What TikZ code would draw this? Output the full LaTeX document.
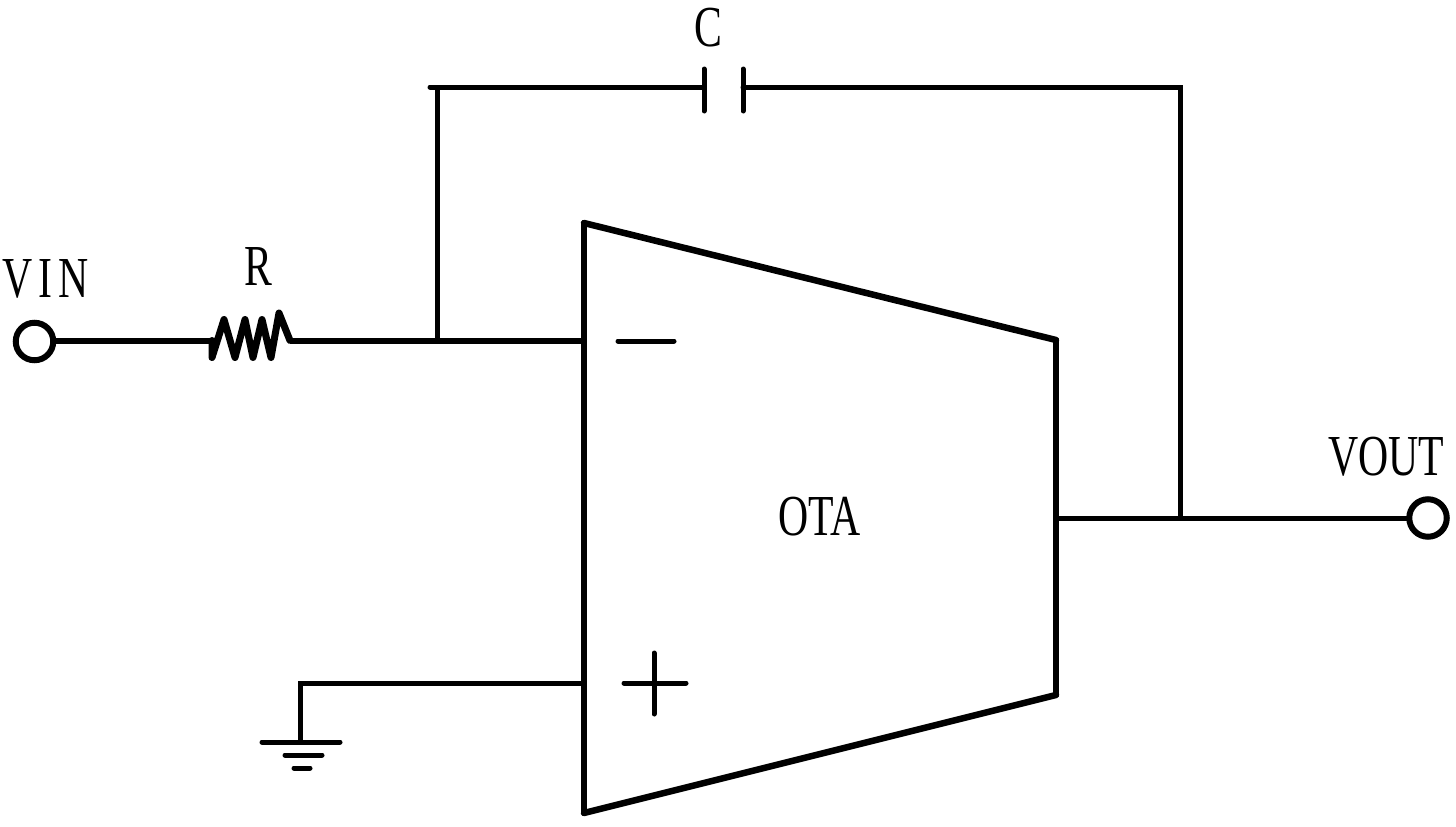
\documentclass[tikz,border=0pt]{standalone}
\usepackage{fontspec}
\setmainfont{Liberation Serif}
\usetikzlibrary{calc}
\tikzset{
  wire/.style={line width=5pt,line cap=round,line join=miter,black},
  pin/.style={circle,draw=black,line width=6pt,fill=white,minimum size=37.5pt,inner sep=0pt,outer sep=0pt},
  lbl/.style={inner sep=0pt,outer sep=0pt,anchor=center,xscale=0.72,font=\fontsize{58}{58}\selectfont},
}
\begin{document}
\begin{tikzpicture}[x=1pt,y=-1pt]
\useasboundingbox (0,0) rectangle (1456,827);
\fill[white] (0,0) rectangle (1456,827);
% named points
\node[pin] (vin) at (34.5,341.5) {};
\node[pin] (vout) at (1428,518) {};
\coordinate (rl) at (212,340.5);
\coordinate (rr) at (290,340.5);
\coordinate (j1) at (437,340.5);
\coordinate (inm) at (584,340.5);
\coordinate (inp) at (584,683);
\coordinate (outp) at (1056,518);
\coordinate (j2) at (1180,518);
\coordinate (tl) at (437,87);
\coordinate (tlstub) at (430,87);
\coordinate (tr) at (1180,87);
\coordinate (c1) at (704,87);
\coordinate (c2) at (743,87);
\coordinate (g0) at (300,683);
\coordinate (g1) at (300,742);
% OTA body
\coordinate (a) at (584,223);
\coordinate (b) at (1056,340);
\coordinate (c) at (1056,695);
\coordinate (d) at (584,813);
\draw[wire,line width=5.5pt,line cap=round] (a) -- (d);
\draw[wire,line width=5.5pt,line cap=round] (b) -- (c);
\draw[wire,line width=6.5pt,line cap=round] (a) -- (b);
\draw[wire,line width=6.5pt,line cap=round] (d) -- (c);
% wires
\draw[wire,line width=6pt,line cap=butt] (vin.east |- rl) -- (rl);
\draw[wire,line width=6pt,line cap=butt] (rr) -- (inm);
\draw[wire,line cap=butt] (j1) -- (tl);
\draw[wire] (tlstub) -- (c1);
\draw[wire,line join=miter] (c2) -- (tr) -- (j2);
\draw[wire,line cap=butt] (outp) -- (vout);
\draw[wire,line join=miter,line cap=butt] (inp) -- (g0) -- (g1);
% resistor
\draw[line width=7pt,line join=round,line cap=round] (rl) -- (212,357.5) -- (224,319.5) -- (235,357.5) -- (245,319.5) -- (253,357.5) -- (262,319.5) -- (271,357.5) -- (279,313) -- (rr);
% capacitor plates
\draw[wire] (704,69) -- (704,111);
\draw[wire] (743,69) -- (743,111);
% ground
\draw[wire] (262,742) -- (340,742);
\draw[wire] (285,755) -- (322,755);
\draw[wire] (294,768) -- (310,768);
% signs
\draw[wire] (618,341) -- (674,341);
\draw[wire] (624,683) -- (686,683);
\draw[wire] (654,653) -- (654,714);
% labels
\node[lbl] (lvin) at (45.5,279) {\addfontfeature{LetterSpace=15}VIN};
\node[lbl] (lr) at (258.5,267) {R};
\node[lbl] (lc) at (708,28) {C};
\node[lbl] (lota) at (819.5,517) {OTA};
\node[lbl] (lvout) at (1386.5,457) {VOUT};
\end{tikzpicture}
\end{document}
